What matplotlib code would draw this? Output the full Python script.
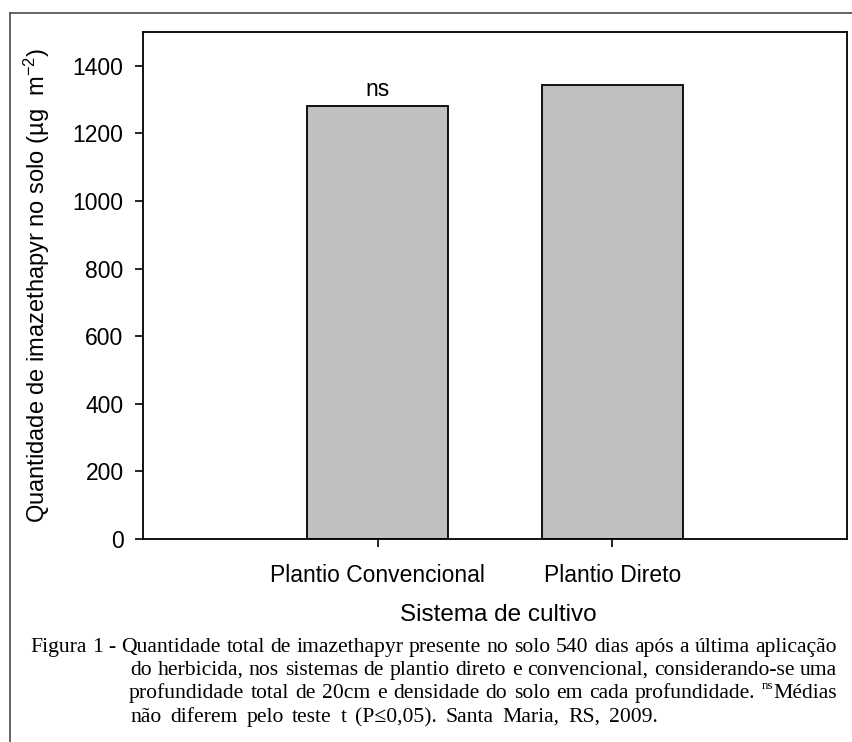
import matplotlib
matplotlib.use("Agg")
import matplotlib.pyplot as plt
from matplotlib.lines import Line2D

# ---------------- data ----------------
categories = ["Plantio Convencional", "Plantio Direto"]
values = [1281, 1343]
annotations = ["ns", ""]
y_ticks = [0, 200, 400, 600, 800, 1000, 1200, 1400]
y_label = r"Quantidade de imazethapyr no solo (µg  m$^{\mathregular{-2}}$)"
x_label = "Sistema de cultivo"
caption_lines = [
    "Figura 1 - Quantidade total de imazethapyr presente no solo 540 dias após a última aplicação",
    "do herbicida, nos sistemas de plantio direto e convencional, considerando-se uma",
    "profundidade total de 20cm e densidade do solo em cada profundidade. ^nsMédias",
    "não diferem pelo teste t (P≤0,05). Santa Maria, RS, 2009.",
]

W, H, DPI = 852, 742, 100
plt.rcParams["font.family"] = ["Liberation Sans", "DejaVu Sans"]
plt.rcParams["mathtext.fontset"] = "custom"
plt.rcParams["mathtext.rm"] = "Liberation Sans"
plt.rcParams["mathtext.it"] = "Liberation Sans:italic"
plt.rcParams["mathtext.bf"] = "Liberation Sans:bold"

fig = plt.figure(figsize=(W / DPI, H / DPI), dpi=DPI)
fig.patch.set_facecolor("white")

def fx(px):
    return px / W

def fy(py):
    return 1 - py / H

ax = fig.add_axes([fx(143), fy(539), fx(847) - fx(143), fy(32) - fy(539)])
x = [1, 2]
ax.bar(x, values, width=0.6, color="#c0c0c0", edgecolor="black", linewidth=1.3, zorder=2)
ax.set_xlim(0, 3)
ax.set_ylim(0, 1500)
ax.set_yticks(y_ticks)
ax.set_xticks(x)
ax.set_xticklabels(categories)
for s in ax.spines.values():
    s.set_linewidth(1.3)
    s.set_color("black")
ax.tick_params(axis="y", direction="out", length=6, width=1.2, pad=8, labelsize=16.5)
ax.tick_params(axis="x", direction="out", length=6, width=1.2, pad=12, labelsize=16.5)
for xi, v, a in zip(x, values, annotations):
    if a:
        ax.annotate(a, xy=(xi, v), xytext=(0, 7.5), textcoords="offset points",
                    ha="center", va="baseline", fontsize=16.5)

fig.text(fx(37), fy(285), y_label, rotation=90, ha="center", va="center", fontsize=17)
fig.text(fx(498), fy(621), x_label, ha="center", va="baseline", fontsize=17.5)

# figure frame (top and left)
fig.add_artist(Line2D([fx(10), 1.0], [fy(13), fy(13)], transform=fig.transFigure,
                      color="#4a4a4a", linewidth=1.2))
fig.add_artist(Line2D([fx(10), fx(10)], [fy(13), 0.0], transform=fig.transFigure,
                      color="#4a4a4a", linewidth=1.2))

# ---------------- caption (justified) ----------------
serif = ["Liberation Serif", "DejaVu Serif"]
renderer = fig.canvas.get_renderer()

def measure(s, size):
    t = fig.text(0, 0, s, fontsize=size, family=serif)
    w = t.get_window_extent(renderer).width
    t.remove()
    return w

def word_parts(word, size):
    # returns list of (text, fontsize, raise_px)
    if word.startswith("^ns"):
        return [("ns", size * 0.6, size * 0.55), (word[3:], size, 0)]
    return [(word, size, 0)]

def word_width(word, size):
    return sum(measure(t, fs_) for t, fs_, _ in word_parts(word, size))

base = 12.0
w0 = caption_lines[0].split()
sp_base = measure("a a", base) - measure("aa", base)
nat = sum(word_width(w, base) for w in w0) + (len(w0) - 1) * sp_base
fs = base * 805 / nat
fs = max(11.0, min(16.5, fs))

starts = [30, 130, 129, 130]
rights = [837, 837, 837, 658]
baselines = [652, 675, 698, 722]
for i, line in enumerate(caption_lines):
    words = line.split()
    widths = [word_width(w, fs) for w in words]
    gap = (rights[i] - starts[i] - sum(widths)) / (len(words) - 1)
    xpos = starts[i]
    for w, ww in zip(words, widths):
        xp = xpos
        for t, tfs, rz in word_parts(w, fs):
            fig.text(fx(xp), fy(baselines[i] - rz), t, fontsize=tfs, family=serif,
                     ha="left", va="baseline", color="black")
            xp += measure(t, tfs)
        xpos += ww + gap

fig.savefig("out.png", dpi=DPI, facecolor="white")
